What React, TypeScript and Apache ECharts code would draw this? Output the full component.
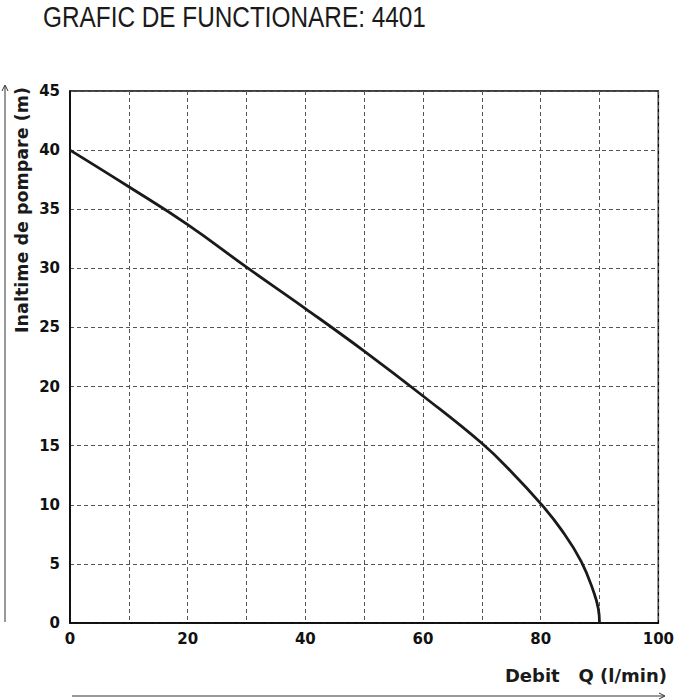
import React, { useEffect, useRef } from "react";
import * as echarts from "echarts";

const TITLE = "GRAFIC DE FUNCTIONARE: 4401";
const Y_NAME = "Inaltime de pompare (m)";
const X_NAME = "Debit   Q (l/min)";

// Flow Q (l/min) and head H (m)
const flowQ = [0, 10, 20, 30, 40, 50, 60, 70, 75, 80, 83.5, 86.9, 89.1, 89.8, 90];
const headH = [40, 36.9, 33.7, 30.1, 26.6, 23.0, 19.2, 15.2, 12.8, 10.1, 7.9, 5.2, 2.5, 1.2, 0];

const X_MIN = 0, X_MAX = 100, X_STEP = 10, X_LABEL_STEP = 20;
const Y_MIN = 0, Y_MAX = 45, Y_STEP = 5;

const LABEL_FONT = '"DejaVu Sans", Verdana, sans-serif';

export default function App() {
  const ref = useRef<HTMLDivElement>(null);

  useEffect(() => {
    if (!ref.current) return;
    const chart = echarts.init(ref.current, undefined, { renderer: "svg" });
    const data = flowQ.map((q, i) => [q, headH[i]]);
    const gridDash = { color: "#555", width: 1, type: [4, 3] as any };
    chart.setOption({
      animation: false,
      backgroundColor: "#fff",
      grid: {
        left: 70,
        right: 16,
        top: 91,
        bottom: 77,
        show: true,
        borderColor: "#000",
        borderWidth: 1.5,
        backgroundColor: "transparent",
      },
      xAxis: {
        type: "value",
        min: X_MIN,
        max: X_MAX,
        interval: X_STEP,
        axisLine: { show: true, lineStyle: { color: "#000", width: 1.5 } },
        axisTick: { show: false },
        splitLine: { show: true, lineStyle: gridDash },
        axisLabel: {
          margin: 8,
          color: "#111",
          fontFamily: LABEL_FONT,
          fontWeight: "bold",
          fontSize: 15,
          formatter: (v: number) => (v % X_LABEL_STEP === 0 ? String(v) : ""),
        },
      },
      yAxis: {
        type: "value",
        min: Y_MIN,
        max: Y_MAX,
        interval: Y_STEP,
        axisLine: { show: true, lineStyle: { color: "#000", width: 1.5 } },
        axisTick: { show: false },
        splitLine: { show: true, lineStyle: gridDash },
        axisLabel: {
          margin: 10,
          color: "#111",
          fontFamily: LABEL_FONT,
          fontWeight: "bold",
          fontSize: 15,
        },
      },
      series: [
        {
          type: "line",
          data,
          smooth: 0.45,
          showSymbol: false,
          symbol: "none",
          clip: true,
          lineStyle: { color: "#1a1a1a", width: 2.8 },
          z: 5,
        },
      ],
      graphic: [
        {
          type: "text",
          x: 43,
          y: 17,
          scaleX: 0.84,
          style: {
            text: TITLE,
            align: "left",
            verticalAlign: "middle",
            font: 'normal 29px "Liberation Sans", Arial, sans-serif',
            fill: "#1a1a1a",
          },
        },
        {
          type: "text",
          x: 22,
          y: 210,
          rotation: Math.PI / 2,
          style: {
            text: Y_NAME,
            align: "center",
            verticalAlign: "middle",
            font: 'bold 17.5px "DejaVu Sans", Verdana, sans-serif',
            fill: "#1a1a1a",
          },
        },
        {
          type: "text",
          x: 667,
          y: 675,
          style: {
            text: X_NAME,
            align: "right",
            verticalAlign: "middle",
            font: 'bold 18px "DejaVu Sans", Verdana, sans-serif',
            fill: "#1a1a1a",
          },
        },
        // y arrow
        {
          type: "line",
          shape: { x1: 5, y1: 622, x2: 5, y2: 86 },
          style: { stroke: "#333", lineWidth: 1 },
        },
        {
          type: "polyline",
          shape: { points: [[2, 91], [5, 85], [8, 91]] },
          style: { stroke: "#333", lineWidth: 1, fill: null },
        },
        // x arrow
        {
          type: "line",
          shape: { x1: 72, y1: 696, x2: 664, y2: 696 },
          style: { stroke: "#333", lineWidth: 1 },
        },
        {
          type: "polyline",
          shape: { points: [[659, 693], [665, 696], [659, 699]] },
          style: { stroke: "#333", lineWidth: 1, fill: null },
        },
      ],
    });
    return () => chart.dispose();
  }, []);

  return (
    <div
      ref={ref}
      style={{ position: "fixed", left: 0, top: 0, width: 677, height: 700, background: "#fff" }}
    />
  );
}
